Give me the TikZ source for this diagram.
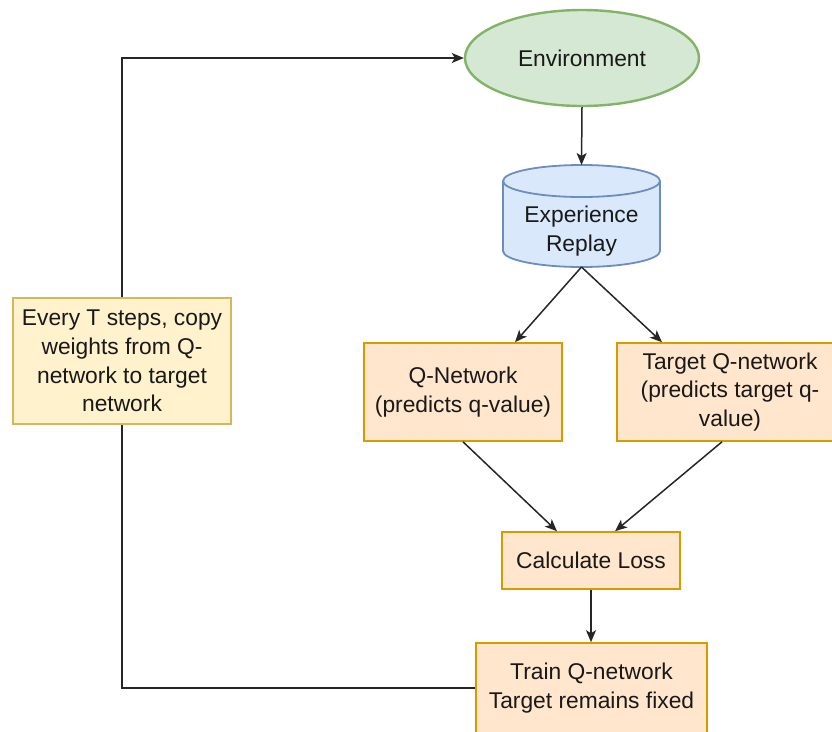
\documentclass[tikz,border=0pt]{standalone}
\usepackage{fontspec}
\setmainfont{Liberation Sans}
\usetikzlibrary{arrows.meta,shapes.geometric}
\definecolor{envfill}{HTML}{D5E8D4}
\definecolor{envline}{HTML}{82B366}
\definecolor{cylfill}{HTML}{DAE8FC}
\definecolor{cylline}{HTML}{6C8EBF}
\definecolor{orfill}{HTML}{FFE6CC}
\definecolor{orline}{HTML}{D79B00}
\definecolor{yefill}{HTML}{FFF2CC}
\definecolor{yeline}{HTML}{D6B656}
\tikzset{
  txt/.style={font=\fontsize{22.8}{28.8}\selectfont, align=center, text=black!90},
  obox/.style={txt, draw=orline, fill=orfill, line width=1.6pt, inner sep=0pt},
  ybox/.style={txt, draw=yeline, fill=yefill, line width=1.6pt, inner sep=0pt},
  conn/.style={draw=black!85, line width=1.5pt},
  arr/.style={conn, -{Stealth[length=12pt,width=10pt,inset=3pt]}}
}
\begin{document}
\begin{tikzpicture}[x=1pt,y=-1pt]
\useasboundingbox (0,0) rectangle (832,731);
\clip (0,0) rectangle (832,731);
% Environment
\node[ellipse, txt, draw=envline, fill=envfill, line width=2.4pt,
      minimum width=234pt, minimum height=96pt, inner sep=0pt] (env) at (582,58) {Environment};
% Cylinder
\path[draw=cylline, fill=cylfill, line width=1.8pt]
  (503,181) -- (503,251) arc (180:0:78.5 and 16) -- (660,181) arc (0:-180:78.5 and 16) -- cycle;
\draw[cylline, line width=1.8pt] (503,181) arc (180:0:78.5 and 16);
\coordinate (ertop) at (581.5,165);
\coordinate (erbot) at (581.5,267);
\node[txt] (er) at (581.5,231) {Experience\\Replay};
% Q boxes
\node[obox, minimum width=198pt, minimum height=98pt] (q) at (463,392) {Q-Network\\(predicts q-value)};
\node[obox, minimum width=226pt, minimum height=98pt] (tq) at (730,392) {Target Q-network\\(predicts target q-\\value)};
\node[obox, minimum width=178pt, minimum height=57pt] (calc) at (591,560.5) {Calculate Loss};
\node[obox, minimum width=231pt, minimum height=90pt] (train) at (591.5,688) {Train Q-network\\Target remains fixed};
\node[ybox, minimum width=218pt, minimum height=126pt] (yb) at (122,361) {Every T steps, copy\\weights from Q-\\network to target\\network};
% connectors
\draw[arr] (env.south) -- (ertop);
\draw[arr] (erbot) -- ([xshift=52pt]q.north);
\draw[arr] (erbot) -- ([xshift=-68pt]tq.north);
\draw[arr] (q.south) -- ([xshift=-34pt]calc.north);
\draw[arr] ([xshift=-8pt]tq.south) -- ([xshift=24pt]calc.north);
\draw[arr] (calc.south) -- (calc.south |- train.north);
\draw[conn] (train.west) -| (yb.south);
\draw[arr] (yb.north) |- (env.west);
\end{tikzpicture}
\end{document}
